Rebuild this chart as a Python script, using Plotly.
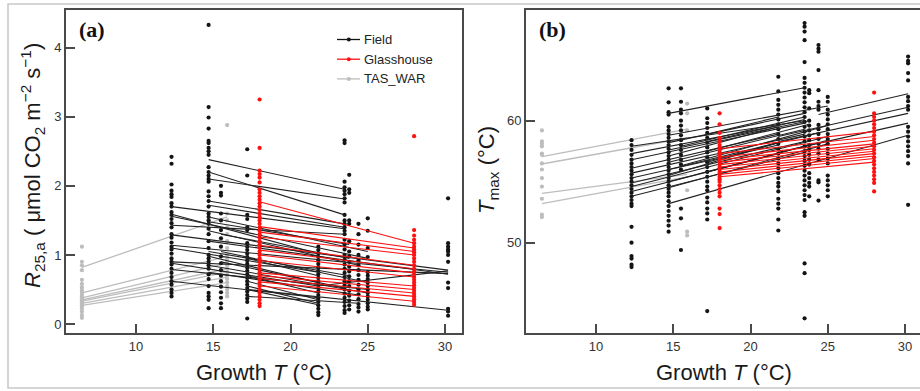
import plotly.graph_objects as go

# ---------------- Panel (a): R25,a ----------------
A_FIELD_X = [12.3, 14.7, 15.5, 17.2, 21.8, 23.5, 23.8, 24.4, 25.0, 30.2]
A_FIELD_Y = [
    [2.42, 2.32, 2.02, 1.93, 1.88, 1.84, 1.75, 1.70, 1.62, 1.58, 1.52, 1.46, 1.40, 1.30, 1.25, 1.18, 1.12,
     1.08, 1.02, 0.95, 0.90, 0.86, 0.80, 0.74, 0.68, 0.62, 0.57, 0.50, 0.45, 0.40],
    [4.33, 3.14, 2.99, 2.83, 2.65, 2.62, 2.55, 2.50, 2.45, 2.27, 2.20, 2.15, 2.10, 2.06, 1.92, 1.85, 1.78,
     1.70, 1.60, 1.55, 1.50, 1.45, 1.38, 1.30, 1.20, 1.10, 1.00, 0.95, 0.90, 0.85, 0.80, 0.72, 0.65, 0.55,
     0.45, 0.40, 0.35, 0.23],
    [2.00, 1.90, 1.86, 1.60, 1.50, 1.36, 1.24, 1.12, 0.98, 0.88, 0.78, 0.70, 0.62, 0.54, 0.46, 0.38, 0.30, 0.23],
    [2.53, 2.15, 1.58, 1.52, 1.40, 1.36, 1.17, 1.12, 1.07, 1.02, 0.97, 0.92, 0.87, 0.82, 0.77, 0.72, 0.67,
     0.62, 0.57, 0.52, 0.47, 0.42, 0.37, 0.32, 0.08],
    [1.12, 1.07, 1.02, 0.97, 0.92, 0.87, 0.82, 0.77, 0.72, 0.67, 0.62, 0.57, 0.52, 0.47, 0.42, 0.37, 0.32,
     0.27, 0.22, 0.17, 0.13],
    [2.66, 2.62, 2.06, 1.98, 1.93, 1.88, 1.82, 1.76, 1.58, 1.50, 1.45, 1.40, 1.35, 1.30, 1.22, 1.15, 1.08,
     1.00, 0.93, 0.86, 0.80, 0.74, 0.68, 0.62, 0.56, 0.50, 0.44, 0.38, 0.32, 0.26, 0.20, 0.16],
    [2.16, 1.95, 1.90, 1.50, 1.45, 1.20, 1.05, 0.98, 0.90, 0.83, 0.76, 0.69, 0.62, 0.55, 0.48, 0.41, 0.34,
     0.27, 0.21],
    [1.45, 1.30, 1.15, 1.00, 0.92, 0.85, 0.78, 0.71, 0.64, 0.57, 0.50, 0.43, 0.36, 0.29, 0.24, 0.18],
    [1.53, 1.35, 1.10, 0.97, 0.75, 0.70, 0.65, 0.60, 0.55, 0.50, 0.45, 0.40, 0.35, 0.30, 0.25, 0.21],
    [1.82, 1.17, 1.12, 1.08, 1.05, 1.00, 0.90, 0.60, 0.52, 0.22, 0.18, 0.12],
]
A_GLASS_X = [18.0, 28.0]
A_GLASS_Y = [
    [3.25, 2.55, 2.22, 2.17, 2.12, 2.05, 1.95, 1.90, 1.85, 1.80, 1.75, 1.70, 1.65, 1.60, 1.55, 1.50, 1.45,
     1.40, 1.35, 1.30, 1.25, 1.20, 1.15, 1.10, 1.05, 1.00, 0.95, 0.90, 0.85, 0.80, 0.75, 0.70, 0.65, 0.60,
     0.55, 0.50, 0.45, 0.40, 0.35, 0.30, 0.26],
    [2.72, 1.36, 1.28, 1.22, 1.17, 1.12, 1.08, 1.04, 1.00, 0.95, 0.90, 0.85, 0.80, 0.76, 0.72, 0.68, 0.64,
     0.60, 0.56, 0.52, 0.48, 0.44, 0.40, 0.36, 0.32, 0.28],
]
A_TAS_X = [6.5, 15.9]
A_TAS_Y = [
    [1.12, 0.90, 0.85, 0.78, 0.64, 0.58, 0.53, 0.49, 0.45, 0.42, 0.40, 0.37, 0.35, 0.33, 0.31, 0.29, 0.27,
     0.25, 0.22, 0.18, 0.13, 0.09],
    [2.88, 1.60, 1.50, 1.40, 1.30, 1.20, 1.10, 1.00, 0.95, 0.90, 0.85, 0.80, 0.75, 0.70, 0.65, 0.60, 0.55,
     0.50, 0.45, 0.40],
]
# regression lines: start x, start y, end x, end y
A_FIELD_L_X0 = [12.3, 12.3, 12.3, 12.3, 12.3, 12.3, 12.3, 12.3, 12.3, 12.3, 12.3,
                14.7, 14.7, 14.7, 14.7, 14.7, 14.7, 14.7, 14.7, 14.7, 14.7, 14.7, 14.7, 14.7,
                15.5, 15.5, 15.5,
                17.2, 17.2, 17.2, 17.2, 17.2, 17.2, 17.2, 21.8]
A_FIELD_L_Y0 = [1.70, 1.59, 1.56, 1.43, 1.29, 1.14, 1.10, 0.90, 0.88, 0.79, 0.62,
                2.38, 2.20, 2.10, 1.78, 1.72, 1.55, 1.48, 1.35, 1.20, 1.05, 0.98, 0.85, 0.75,
                1.30, 1.05, 0.90,
                0.95, 0.50, 0.70, 0.62, 0.55, 0.50, 0.40, 0.55]
A_FIELD_L_X1 = [23.5, 21.8, 25.0, 23.5, 30.2, 30.2, 21.8, 30.2, 21.8, 25.0, 21.8,
                23.5, 23.5, 23.5, 23.5, 23.5, 25.0, 23.8, 24.4, 30.2, 23.8, 21.8, 25.0, 24.4,
                23.8, 25.0, 23.5,
                21.8, 30.2, 21.8, 21.8, 21.8, 21.8, 24.4, 30.2]
A_FIELD_L_Y1 = [1.38, 1.02, 0.95, 1.30, 0.78, 0.75, 0.75, 0.73, 0.55, 0.50, 0.38,
                1.95, 1.58, 1.81, 1.45, 1.40, 1.05, 1.15, 0.85, 0.72, 0.70, 0.60, 0.45, 0.42,
                0.95, 0.60, 0.52,
                0.70, 0.20, 0.45, 0.35, 0.30, 0.28, 0.30, 0.77]
A_GLASS_L_Y0 = [1.77, 1.41, 1.33, 1.26, 1.14, 1.07, 1.00, 0.92, 0.74, 0.70, 0.66, 0.61, 0.55]
A_GLASS_L_Y1 = [1.17, 1.10, 1.05, 1.00, 0.85, 0.80, 0.74, 0.68, 0.55, 0.50, 0.45, 0.40, 0.33]
A_TAS_L_Y0 = [0.82, 0.45, 0.38, 0.35, 0.33, 0.30, 0.27]
A_TAS_L_Y1 = [1.55, 0.98, 0.88, 0.80, 0.75, 0.68, 0.60]

# ---------------- Panel (b): Tmax ----------------
B_FIELD_X = [12.3, 14.7, 15.5, 17.2, 21.8, 23.5, 23.8, 24.4, 25.0, 30.2]
B_FIELD_Y = [
    [58.4, 58.0, 57.6, 57.2, 56.8, 56.5, 56.2, 55.9, 55.6, 55.3, 55.0, 54.7, 54.4, 54.1, 53.8, 53.5, 53.2,
     53.0, 51.3, 50.0, 48.9, 48.7, 48.2, 48.0],
    [62.65, 61.5, 60.7, 60.5, 59.5, 59.2, 58.9, 58.6, 58.3, 58.0, 57.7, 57.4, 57.1, 56.8, 56.5, 56.2, 55.9,
     55.6, 55.3, 55.0, 54.7, 54.4, 54.1, 53.8, 53.4, 53.0, 52.6, 52.2, 51.8, 51.4, 50.9],
    [62.65, 61.55, 60.9, 60.6, 60.0, 59.6, 59.2, 58.8, 58.4, 58.0, 57.6, 57.2, 56.8, 56.4, 56.0, 52.8, 52.0, 49.4],
    [61.0, 60.2, 59.8, 59.4, 59.0, 58.6, 58.2, 57.8, 57.4, 57.0, 56.6, 56.2, 55.8, 55.4, 55.0, 54.6, 54.3,
     53.7, 53.3, 52.8, 52.4, 51.9, 44.4],
    [63.6, 62.4, 61.7, 61.3, 60.9, 60.5, 60.1, 59.7, 59.3, 58.9, 58.5, 58.1, 57.7, 57.3, 56.9, 56.5, 56.1,
     55.7, 55.3, 54.9, 54.6, 54.2, 53.6, 53.2, 52.8, 51.9, 51.0],
    [68.0, 67.7, 67.3, 66.6, 64.8, 63.5, 63.1, 62.7, 62.3, 61.9, 61.5, 61.1, 60.7, 60.3, 59.9, 59.5, 59.1,
     58.7, 58.3, 57.9, 57.5, 57.1, 56.7, 56.3, 55.9, 55.5, 55.1, 54.7, 54.3, 53.9, 53.5, 52.5, 52.2, 48.3,
     47.5, 43.8],
    [62.5, 62.25, 61.0, 60.0, 59.6, 59.2, 58.8, 58.4, 58.0, 57.6, 57.2, 56.8, 56.4, 55.7, 55.3, 54.9, 54.6, 53.8],
    [66.2, 65.9, 65.65, 64.15, 62.5, 61.55, 61.2, 60.9, 59.65, 59.3, 58.9, 58.5, 58.1, 57.7, 57.3, 56.8,
     55.1, 54.95, 53.45],
    [61.95, 61.55, 60.9, 60.5, 60.1, 59.7, 59.3, 58.9, 58.5, 58.1, 57.7, 57.3, 56.9, 56.5, 55.5, 55.1, 54.7,
     54.3, 53.8],
    [65.25, 64.9, 64.7, 63.9, 63.3, 61.95, 61.6, 61.2, 60.9, 59.5, 59.1, 58.7, 58.3, 57.9, 57.5, 57.1, 56.5, 53.1],
]
B_GLASS_X = [18.0, 28.0]
B_GLASS_Y = [
    [60.6, 59.7, 59.0, 58.6, 58.3, 58.0, 57.8, 57.6, 57.4, 57.2, 57.0, 56.8, 56.6, 56.4, 56.2, 56.0, 55.8,
     55.6, 55.4, 55.2, 55.0, 54.7, 54.4, 54.1, 53.8, 52.8, 52.35, 51.2],
    [62.3, 60.6, 60.3, 60.0, 59.7, 59.4, 59.1, 58.8, 58.5, 58.2, 57.9, 57.6, 57.3, 57.0, 56.7, 56.4, 56.1,
     55.8, 55.5, 55.2, 54.9, 54.2],
]
B_TAS_X = [6.5, 15.9]
B_TAS_Y = [
    [59.2, 58.3, 58.1, 57.9, 57.3, 57.2, 56.5, 56.0, 55.3, 54.6, 53.6, 52.3, 52.1],
    [61.4, 60.6, 59.2, 54.3, 50.9, 50.6],
]
B_FIELD_L_X0 = [12.3] * 10 + [14.7] * 11 + [15.5, 15.5] + [17.2] * 5 + [24.4, 21.8, 21.8, 21.8]
B_FIELD_L_Y0 = [57.9, 57.3, 56.8, 56.1, 55.7, 55.3, 54.9, 54.6, 54.2, 53.8,
                60.6, 58.8, 58.2, 57.6, 57.1, 56.6, 56.0, 55.5, 55.0, 54.5, 53.2,
                57.9, 56.3,
                58.9, 58.3, 57.5, 56.6, 55.8,
                60.5, 58.7, 58.3, 57.4]
B_FIELD_L_X1 = [23.5, 21.8, 23.5, 21.8, 23.5, 21.8, 23.5, 25.0, 21.8, 23.5,
                23.5, 25.0, 23.5, 23.8, 21.8, 23.5, 24.4, 21.8, 23.8, 25.0, 30.2,
                23.5, 25.0,
                21.8, 23.5, 23.8, 21.8, 25.0,
                30.2, 30.2, 30.2, 30.2]
B_FIELD_L_Y1 = [60.0, 59.6, 59.8, 58.9, 58.9, 58.0, 58.3, 58.7, 57.3, 57.4,
                62.7, 61.2, 60.6, 60.0, 59.5, 59.3, 59.0, 58.2, 58.0, 58.1, 58.8,
                60.3, 59.6,
                60.3, 60.1, 59.7, 58.2, 58.4,
                62.2, 61.1, 60.6, 59.8]
B_GLASS_L_Y0 = [57.7, 57.3, 57.0, 56.8, 56.6, 56.4, 56.2, 56.0, 55.8, 55.6, 55.4]
B_GLASS_L_Y1 = [59.1, 58.7, 58.4, 58.1, 57.9, 57.7, 57.5, 57.3, 57.1, 56.9, 56.6]
B_TAS_L_Y0 = [57.05, 56.45, 54.05, 53.2]
B_TAS_L_Y1 = [59.3, 58.6, 55.6, 55.4]

GROUPS = ["Field", "Glasshouse", "TAS_WAR"]
X_TICKS = [10, 15, 20, 25, 30]
A_Y_TICKS = [0, 1, 2, 3, 4]
B_Y_TICKS = [50, 60]

C_FIELD = "#141414"
C_GLASS = "#ff1010"
C_TAS = "#bdbdbd"
FONT = "Liberation Sans, Arial, sans-serif"
W, H = 920, 391


def px(v):
    return v / W


def py(v):
    return 1 - v / H


def dots(xs, ys_list):
    xx, yy = [], []
    for x, ys in zip(xs, ys_list):
        for y in ys:
            xx.append(x)
            yy.append(y)
    return xx, yy


def segs(x0, y0, x1, y1):
    xx, yy = [], []
    for a, b, c, d in zip(x0, y0, x1, y1):
        xx += [a, c, None]
        yy += [b, d, None]
    return xx, yy


fig = go.Figure()


def add_panel(xa, ya, field, glass, tas, fl, gl, tl):
    # TAS_WAR
    lx, ly = segs([6.5] * len(tl[0]), tl[0], [15.9] * len(tl[1]), tl[1])
    fig.add_trace(go.Scatter(x=lx, y=ly, mode="lines", line=dict(color=C_TAS, width=1.3),
                             xaxis=xa, yaxis=ya, showlegend=False, hoverinfo="skip"))
    dx, dy = dots(*tas)
    fig.add_trace(go.Scatter(x=dx, y=dy, mode="markers", marker=dict(color=C_TAS, size=4.2),
                             xaxis=xa, yaxis=ya, showlegend=False))
    # Field
    dx, dy = dots(*field)
    fig.add_trace(go.Scatter(x=dx, y=dy, mode="markers", marker=dict(color=C_FIELD, size=4.2),
                             xaxis=xa, yaxis=ya, showlegend=False))
    lx, ly = segs(*fl)
    fig.add_trace(go.Scatter(x=lx, y=ly, mode="lines", line=dict(color="#222222", width=1.1),
                             xaxis=xa, yaxis=ya, showlegend=False, hoverinfo="skip"))
    # Glasshouse
    dx, dy = dots(*glass)
    fig.add_trace(go.Scatter(x=dx, y=dy, mode="markers", marker=dict(color=C_GLASS, size=4.2),
                             xaxis=xa, yaxis=ya, showlegend=False))
    lx, ly = segs([18.0] * len(gl[0]), gl[0], [28.0] * len(gl[1]), gl[1])
    fig.add_trace(go.Scatter(x=lx, y=ly, mode="lines", line=dict(color=C_GLASS, width=1.1),
                             xaxis=xa, yaxis=ya, showlegend=False, hoverinfo="skip"))


add_panel("x", "y", (A_FIELD_X, A_FIELD_Y), (A_GLASS_X, A_GLASS_Y), (A_TAS_X, A_TAS_Y),
          (A_FIELD_L_X0, A_FIELD_L_Y0, A_FIELD_L_X1, A_FIELD_L_Y1),
          (A_GLASS_L_Y0, A_GLASS_L_Y1), (A_TAS_L_Y0, A_TAS_L_Y1))
add_panel("x2", "y2", (B_FIELD_X, B_FIELD_Y), (B_GLASS_X, B_GLASS_Y), (B_TAS_X, B_TAS_Y),
          (B_FIELD_L_X0, B_FIELD_L_Y0, B_FIELD_L_X1, B_FIELD_L_Y1),
          (B_GLASS_L_Y0, B_GLASS_L_Y1), (B_TAS_L_Y0, B_TAS_L_Y1))

axis_common = dict(showgrid=False, zeroline=False, showline=True, linecolor="#4a4a4a", linewidth=2,
                   ticks="inside", ticklen=9, tickwidth=2, tickcolor="#4a4a4a",
                   tickfont=dict(family=FONT, size=13, color="#333333"))

fig.update_layout(
    width=W, height=H, margin=dict(l=0, r=0, t=0, b=0),
    paper_bgcolor="white", plot_bgcolor="white", showlegend=False,
    xaxis=dict(domain=[px(66), px(462)], range=[5.47, 31.1], tickvals=X_TICKS, mirror=True,
               anchor="y", **axis_common),
    yaxis=dict(domain=[py(333), py(10)], range=[-0.13, 4.546], tickvals=A_Y_TICKS, mirror=True,
               anchor="x", **axis_common),
    xaxis2=dict(domain=[px(526), 1.0], range=[5.47, 30.97], tickvals=X_TICKS, mirror=True,
                anchor="y2", **axis_common),
    yaxis2=dict(domain=[py(333), py(10)], range=[42.6, 69.07], tickvals=B_Y_TICKS, mirror=False,
                anchor="x2", **axis_common),
)

shapes = [dict(type="rect", xref="paper", yref="paper", x0=px(8), x1=px(930), y0=py(388), y1=py(4),
               line=dict(color="#c8c8c8", width=1.5), fillcolor="rgba(0,0,0,0)", layer="below")]
annotations = []
# manual legend for panel (a)
leg_colors = [C_FIELD, C_GLASS, C_TAS]
for i, (name, col) in enumerate(zip(GROUPS, leg_colors)):
    yy = 39.5 + i * 19.7
    shapes.append(dict(type="line", xref="paper", yref="paper", x0=px(337), x1=px(360), y0=py(yy), y1=py(yy),
                       line=dict(color=col, width=1.3)))
    shapes.append(dict(type="circle", xref="paper", yref="paper", x0=px(346.8), x1=px(350.8),
                       y0=py(yy + 2), y1=py(yy - 2), fillcolor=col, line=dict(color=col, width=0)))
    annotations.append(dict(text=name, xref="paper", yref="paper", x=px(362), y=py(yy), xanchor="left",
                            yanchor="middle", showarrow=False, font=dict(family=FONT, size=13, color="#222")))

annotations += [
    dict(text="<b>(a)</b>", xref="paper", yref="paper", x=px(77), y=py(30), xanchor="left", yanchor="middle",
         showarrow=False, font=dict(family="Liberation Serif, Times New Roman, serif", size=22, color="#111")),
    dict(text="<b>(b)</b>", xref="paper", yref="paper", x=px(537), y=py(30), xanchor="left", yanchor="middle",
         showarrow=False, font=dict(family="Liberation Serif, Times New Roman, serif", size=22, color="#111")),
    dict(text="Growth <i>T</i> (°C)", xref="paper", yref="paper", x=px(264), y=py(372), xanchor="center",
         yanchor="middle", showarrow=False, font=dict(family=FONT, size=22, color="#1a1a1a")),
    dict(text="Growth <i>T</i> (°C)", xref="paper", yref="paper", x=px(724), y=py(372), xanchor="center",
         yanchor="middle", showarrow=False, font=dict(family=FONT, size=22, color="#1a1a1a")),
    dict(text="<i>R</i><sub>25,a</sub> ( μmol CO<sub>2</sub> m<sup>−2</sup> s<sup>−1</sup>)", xref="paper",
         yref="paper", x=px(32), y=py(166), xanchor="center", yanchor="middle", textangle=-90, showarrow=False,
         font=dict(family=FONT, size=22, color="#1a1a1a")),
    dict(text="<i>T</i><sub>max</sub> (°C)", xref="paper", yref="paper", x=px(488), y=py(170),
         xanchor="center", yanchor="middle", textangle=-90, showarrow=False,
         font=dict(family=FONT, size=22, color="#1a1a1a")),
]
fig.update_layout(shapes=shapes, annotations=annotations)

fig.write_html("out.html", config={"displayModeBar": False},
               post_script="document.body.style.margin='0';document.body.style.overflow='hidden';")
